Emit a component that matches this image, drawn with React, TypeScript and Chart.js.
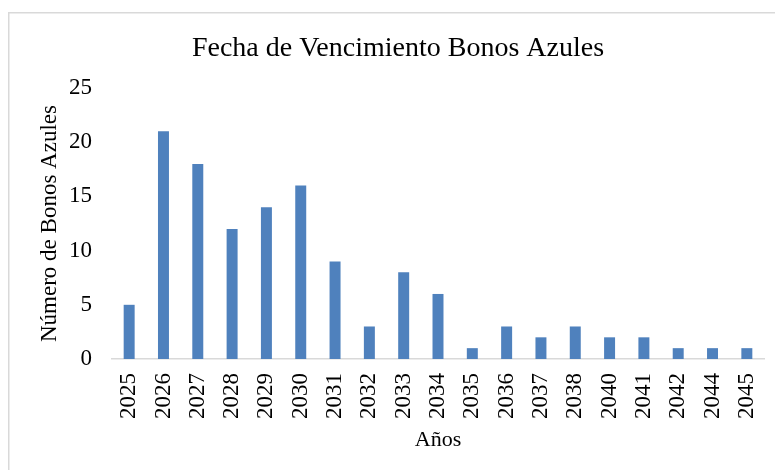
import React, { useEffect, useRef } from "react";
import { Chart, registerables } from "chart.js";

Chart.register(...registerables);

const years = ["2025","2026","2027","2028","2029","2030","2031","2032","2033","2034","2035","2036","2037","2038","2040","2041","2042","2044","2045"];
const bonds = [5,21,18,12,14,16,9,3,8,6,1,3,2,3,2,2,1,1,1];
const yTicks = [0,5,10,15,20,25];

const FONT = "'Liberation Serif', 'Times New Roman', serif";

const framePlugin = {
  id: "frame",
  beforeDraw(chart: any) {
    const ctx = chart.ctx;
    ctx.save();
    ctx.fillStyle = "#ffffff";
    ctx.fillRect(0, 0, chart.width, chart.height);
    ctx.strokeStyle = "#D9D9D9";
    ctx.lineWidth = 1.5;
    ctx.beginPath();
    ctx.moveTo(8.75, chart.height);
    ctx.lineTo(8.75, 12.75);
    ctx.lineTo(chart.width, 12.75);
    ctx.stroke();
    ctx.restore();
  },
};

export default function App() {
  const ref = useRef<HTMLCanvasElement>(null);
  useEffect(() => {
    if (!ref.current) return;
    const chart = new Chart(ref.current, {
      type: "bar",
      data: {
        labels: years,
        datasets: [
          {
            data: bonds,
            backgroundColor: "#4F81BD",
            barPercentage: 0.32,
            categoryPercentage: 1,
          },
        ],
      },
      plugins: [framePlugin],
      options: {
        animation: false,
        responsive: false,
        devicePixelRatio: 1,
        layout: { autoPadding: false, padding: { left: 32, right: 11, top: 32, bottom: 13 } },
        plugins: {
          legend: { display: false },
          tooltip: { enabled: false },
          title: {
            display: true,
            text: "Fecha de Vencimiento Bonos Azules",
            color: "#000",
            font: { family: FONT, size: 28, weight: "normal" },
            padding: { top: 0, bottom: 22.4 },
          },
        },
        scales: {
          x: {
            grid: { display: false, drawTicks: false },
            border: { display: true, color: "#D9D9D9", width: 1.5 },
            ticks: {
              color: "#000",
              font: { family: FONT, size: 23 },
              maxRotation: 90,
              minRotation: 90,
              padding: 14,
              autoSkip: false,
            },
            title: {
              display: true,
              text: "Años",
              color: "#000",
              font: { family: FONT, size: 22 },
            },
            afterFit(scale: any) {
              scale.height = 98;
              scale.paddingLeft = 0;
              scale.paddingRight = 0;
            },
          },
          y: {
            min: 0,
            max: 25,
            afterBuildTicks(scale: any) {
              scale.ticks = yTicks.map((v) => ({ value: v }));
            },
            grid: { display: false, drawTicks: false },
            border: { display: false },
            ticks: {
              color: "#000",
              font: { family: FONT, size: 23 },
              padding: 20,
            },
            title: {
              display: true,
              text: "Número de Bonos Azules",
              color: "#000",
              font: { family: FONT, size: 23 },
            },
            afterFit(scale: any) {
              scale.width = 80;
              scale.paddingTop = 0;
              scale.paddingBottom = 0;
            },
          },
        },
      },
    });
    return () => chart.destroy();
  }, []);
  return (
    <div style={{ position: "fixed", left: 0, top: 0, width: 775, height: 470, background: "#fff" }}>
      <canvas ref={ref} width={775} height={470} style={{ display: "block" }} />
    </div>
  );
}
